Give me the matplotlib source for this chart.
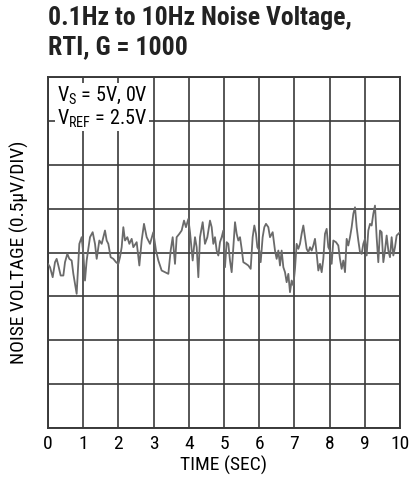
import matplotlib.pyplot as plt
import matplotlib.ticker as ticker

plt.rcParams.update({'font.family': ['Roboto Condensed', 'Roboto', 'DejaVu Sans']})
plt.rcParams.update({'mathtext.default': 'regular'})

# noise trace: time (s), voltage (uV, 0.5uV per division)
time_s = [0.0, 0.057, 0.133, 0.199, 0.246, 0.294, 0.360, 0.436, 0.483, 0.549,
          0.606, 0.672, 0.720, 0.814, 0.890, 0.956, 1.004, 1.051, 1.098, 1.193,
          1.269, 1.335, 1.383, 1.458, 1.525, 1.619, 1.667, 1.714, 1.780, 1.856,
          1.932, 1.998, 2.045, 2.093, 2.140, 2.188, 2.254, 2.311, 2.377, 2.424,
          2.519, 2.595, 2.661, 2.727, 2.803, 2.898, 2.992, 3.068, 3.135, 3.229,
          3.324, 3.419, 3.485, 3.542, 3.608, 3.655, 3.731, 3.797, 3.864, 3.920,
          3.987, 4.034, 4.110, 4.176, 4.224, 4.271, 4.318, 4.394, 4.460, 4.527,
          4.602, 4.650, 4.697, 4.744, 4.792, 4.839, 4.886, 4.934, 4.981, 5.028,
          5.076, 5.123, 5.170, 5.218, 5.265, 5.313, 5.360, 5.407, 5.455, 5.502,
          5.549, 5.625, 5.691, 5.758, 5.814, 5.862, 5.909, 5.947, 6.004, 6.042,
          6.098, 6.146, 6.193, 6.259, 6.307, 6.383, 6.449, 6.496, 6.544, 6.591,
          6.638, 6.686, 6.733, 6.780, 6.828, 6.875, 6.922, 6.970, 7.017, 7.064,
          7.112, 7.159, 7.206, 7.254, 7.301, 7.348, 7.396, 7.443, 7.491, 7.538,
          7.585, 7.633, 7.680, 7.727, 7.775, 7.822, 7.869, 7.917, 7.964, 8.011,
          8.059, 8.106, 8.182, 8.248, 8.295, 8.343, 8.390, 8.438, 8.485, 8.532,
          8.580, 8.627, 8.674, 8.722, 8.769, 8.816, 8.864, 8.911, 8.958, 9.006,
          9.053, 9.100, 9.148, 9.195, 9.242, 9.290, 9.337, 9.384, 9.432, 9.479,
          9.527, 9.574, 9.621, 9.669, 9.716, 9.763, 9.811, 9.858, 9.905, 9.953,
          10.0]
noise_uv = [-0.13, -0.167, -0.281, -0.110, -0.072, -0.148, -0.262, -0.262, -0.110, -0.015,
            -0.072, -0.091, -0.243, -0.471, 0.099, 0.175, -0.015, -0.319, -0.091, 0.175,
            0.232, 0.099, -0.072, 0.137, 0.099, 0.251, 0.137, 0.099, -0.053, -0.072,
            -0.110, -0.129, -0.053, 0.061, 0.289, 0.137, 0.175, 0.099, 0.156, 0.061,
            0.118, -0.148, 0.137, 0.327, 0.175, 0.099, 0.232, 0.023, -0.091, -0.205,
            -0.224, -0.243, 0.023, 0.175, -0.129, 0.175, 0.213, 0.251, 0.364, 0.289,
            0.383, 0.232, -0.091, 0.175, 0.061, -0.281, 0.175, 0.346, 0.099, 0.175,
            0.364, 0.289, 0.099, 0.175, 0.023, -0.034, 0.118, 0.175, 0.251, -0.167,
            0.118, 0.099, -0.091, -0.224, 0.061, 0.346, 0.213, 0.137, 0.175, 0.042,
            -0.110, -0.129, -0.148, -0.186, 0.175, 0.308, 0.213, 0.061, 0.023, -0.110,
            0.175, 0.289, 0.327, 0.289, 0.175, 0.232, 0.023, -0.072, 0.023, -0.148,
            0.023, -0.167, -0.224, -0.338, -0.243, -0.452, -0.319, -0.376, -0.186, 0.099,
            0.042, 0.099, 0.213, 0.308, 0.175, 0.042, 0.004, 0.061, 0.023, 0.080,
            0.156, -0.015, -0.205, -0.129, -0.224, -0.072, 0.213, 0.270, 0.061, 0.023,
            -0.129, 0.137, 0.118, 0.080, -0.072, -0.186, -0.091, -0.224, 0.156, 0.080,
            0.175, 0.289, 0.440, 0.516, 0.289, 0.137, 0.004, -0.015, 0.099, 0.156,
            -0.034, 0.251, 0.327, 0.308, 0.440, 0.535, 0.175, -0.110, 0.251, 0.232,
            -0.110, 0.023, 0.194, 0.023, -0.053, 0.175, -0.034, 0.061, 0.194, 0.213,
            0.232]

x_ticks = [0, 1, 2, 3, 4, 5, 6, 7, 8, 9, 10]

fig = plt.figure(figsize=(4.11, 4.87), dpi=100)
ax = plt.axes([0.1168, 0.1211, 0.8564, 0.7207])  # left bottom width height

ax.plot(time_s, noise_uv, color='#6a6a6a', linewidth=1.3, zorder=3)

ax.set_xlim(0, 10)
ax.set_ylim(-2, 2)
ax.set_xticks(x_ticks)
ax.set_xticklabels([str(t) for t in x_ticks], fontsize=14)
ax.yaxis.set_major_locator(ticker.MultipleLocator(0.5))
ax.set_yticklabels([])
ax.tick_params(length=0, pad=5)
ax.grid(True, color='#3a3a3a', linewidth=1.2)
for s in ax.spines.values():
  s.set_color('#3a3a3a')
  s.set_linewidth(1.4)

ax.set_xlabel('TIME (SEC)', fontsize=14, labelpad=2)
ax.set_ylabel('NOISE VOLTAGE (0.5μV/DIV)', fontsize=14, labelpad=9)

ax.text(0.025, 0.978, 'V$_S$ = 5V, 0V\nV$_{REF}$ = 2.5V', transform=ax.transAxes,
        fontsize=14.5, va='top', ha='left', linespacing=1.05, zorder=4,
        bbox=dict(facecolor='white', edgecolor='none', pad=1.0))

fig.text(0.117, 0.878, '0.1Hz to 10Hz Noise Voltage,\nRTI, G = 1000',
         fontsize=18.5, fontweight='bold', color='#222222', va='bottom', ha='left',
         linespacing=1.3)

plt.savefig('out.png', dpi=100)
